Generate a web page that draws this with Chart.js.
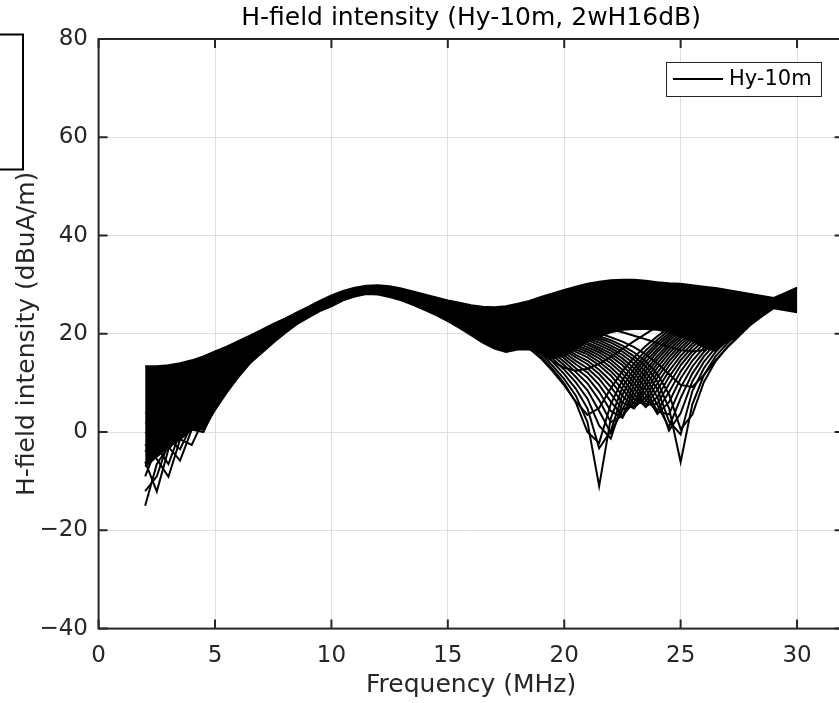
<!DOCTYPE html>
<html><head><meta charset="utf-8">
<script src="https://cdn.jsdelivr.net/npm/chart.js@4.4.1/dist/chart.umd.min.js"></script>
<style>html,body{margin:0;padding:0;overflow:hidden;background:#fff;width:839px;height:703px}canvas{display:block}</style>
</head><body>
<canvas id="c" width="860" height="703"></canvas>
<script>
const titleText = 'H-field intensity (Hy-10m, 2wH16dB)';
const xTitle = 'Frequency (MHz)';
const yTitle = 'H-field intensity (dBuA/m)';
const legendLabel = 'Hy-10m';
const xTicks = [0, 5, 10, 15, 20, 25, 30];
const yTicks = [-40, -20, 0, 20, 40, 60, 80];

// frequency grid of the bundle (MHz)
const freqMHz = [2,2.5,3,3.5,4,4.5,5,5.5,6,6.5,7,7.5,8,8.5,9,9.5,10,10.5,11,11.5,12,12.5,13,13.5,14,14.5,15,15.5,16,16.5,17,17.5,18,18.5,19,19.5,20,20.5,21,21.5,22,22.5,23,23.5,24,24.5,25,25.5,26,26.5,27,27.5,28,28.5,29,29.5,30];
// upper edge of the dense bundle of curves (dBuA/m)
const bandTop = [13.4,13.4,13.6,14.0,14.6,15.4,16.4,17.4,18.5,19.6,20.8,22.0,23.1,24.3,25.5,26.7,27.8,28.7,29.4,29.8,29.9,29.7,29.2,28.6,28.0,27.4,26.8,26.3,25.8,25.5,25.4,25.6,26.1,26.7,27.5,28.2,28.9,29.6,30.2,30.6,30.9,31.0,31.0,30.8,30.5,30.3,30.2,29.9,29.6,29.3,28.9,28.5,28.1,27.7,27.3,28.3,29.4];
// lower edge of the solid part of the bundle (dBuA/m)
const bandBottom = [-7,-5,-3,-1.5,0.5,0.5,4.5,8,11.2,14,16.1,18.2,20.1,21.9,23.3,24.6,25.6,26.8,27.6,28.1,28.0,27.5,26.8,25.9,24.9,23.8,22.6,21.2,19.7,18.2,17.0,16.3,16.8,16.8,16.0,15.0,15.5,17.0,18.5,19.5,20.3,20.8,21.0,21.0,20.8,20.3,19.5,18.5,17.3,16.5,18.5,19.5,21.8,23.6,25.2,24.8,24.4];

// individual curves in the 18.5-27.5 MHz notch region (dBuA/m)
const meshFreq = [18.5,19,19.5,20,20.5,21,21.5,22,22.5,23,23.5,24,24.5,25,25.5,26,26.5,27,27.5];
const mesh0  = [17.6,16.1,14.4,13.1,12.5,12.9,13.9,15.3,16.9,18.5,20.0,21.5,22.9,24.2,25.3,26,26,26,26];
const mesh1  = [17.0,15.0,12.4,9.5,6.2,3.5,4.9,8.9,12.4,15.2,17.5,19.5,21.2,22.8,24.2,25.3,26,26,26];
const mesh2  = [17.4,15.4,12.8,9.9,6.0,0.0,-2.2,5.7,10.6,14.0,16.6,18.8,20.7,22.3,23.7,24.9,26,26,26];
const mesh3  = [17.9,16.0,13.5,10.8,7.4,2.0,-11.0,2.8,9.1,12.9,15.8,18.2,20.1,21.9,23.3,24.6,25.8,26,26];
const mesh4  = [18.4,16.6,14.3,11.8,8.8,4.8,-3.3,0.2,7.6,11.9,15.1,17.6,19.6,21.5,23.0,24.2,25.5,26,26];
const mesh5  = [18.8,17.1,15.0,12.7,10.1,6.8,1.3,-1.3,6.0,10.9,14.3,16.9,19.1,21.0,22.6,23.9,25.2,26,26];
const mesh6  = [19.3,17.7,15.6,13.6,11.2,8.5,4.3,-0.2,4.5,9.7,13.4,16.3,18.6,20.5,22.2,23.5,24.8,26,26];
const mesh7  = [19.7,18.2,16.2,14.3,12.2,9.9,6.5,2.0,3.3,8.5,12.5,15.5,18.0,20.0,21.7,23.2,24.5,25.7,26];
const mesh8  = [20.1,18.7,16.8,15.0,13.0,11.1,8.2,4.3,2.9,7.3,11.6,14.8,17.4,19.5,21.3,22.8,24.2,25.4,26];
const mesh9  = [20.5,19.1,17.3,15.6,13.8,12.1,9.6,6.2,3.4,6.1,10.5,14.0,16.7,19.0,20.8,22.4,23.8,25.0,26];
const mesh10 = [20.9,19.5,17.8,16.2,14.5,13.0,10.8,7.8,4.6,5.3,9.4,13.1,16.0,18.4,20.3,21.9,23.4,24.7,25.9];
const mesh11 = [21.2,19.9,18.3,16.7,15.2,13.8,11.8,9.2,6.0,4.8,8.3,12.1,15.2,17.8,19.8,21.5,23.0,24.3,25.6];
const mesh12 = [21.6,20.3,18.7,17.2,15.7,14.5,12.7,10.4,7.4,5.0,7.1,11.1,14.4,17.1,19.3,21.0,22.6,24.0,25.3];
const mesh13 = [21.9,20.7,19.1,17.7,16.3,15.2,13.6,11.5,8.7,5.8,6.2,9.9,13.5,16.4,18.7,20.5,22.2,23.6,25.0];
const mesh14 = [22.2,21.0,19.5,18.1,16.8,15.8,14.3,12.4,9.9,6.7,5.4,8.6,12.4,15.5,18.0,19.9,21.7,23.2,24.6];
const mesh15 = [22.5,21.3,19.8,18.5,17.3,16.3,15.0,13.2,10.9,7.8,5.1,7.1,11.2,14.6,17.3,19.4,21.2,22.8,24.2];
const mesh16 = [22.8,21.6,20.2,18.9,17.7,16.8,15.6,14.0,11.9,9.0,5.6,5.7,9.8,13.6,16.5,18.7,20.7,22.3,23.8];
const mesh17 = [23.1,21.9,20.5,19.3,18.2,17.3,16.2,14.7,12.7,10.1,6.5,4.4,8.1,12.3,15.6,18.0,20.1,21.8,23.4];
const mesh18 = [23.3,22.2,20.8,19.7,18.6,17.8,16.7,15.4,13.6,11.1,7.6,3.7,6.1,10.9,14.5,17.2,19.5,21.3,22.9];
const mesh19 = [23.6,22.5,21.2,20.0,18.9,18.2,17.2,16.0,14.3,12.1,8.8,4.2,3.6,9.1,13.3,16.3,18.8,20.7,22.5];
const mesh20 = [23.8,22.8,21.5,20.3,19.3,18.7,17.7,16.6,15.0,13.0,10.1,5.5,1.0,6.9,11.9,15.4,18.0,20.1,22.0];
const mesh21 = [24.1,23.1,21.8,20.7,19.7,19.1,18.2,17.1,15.7,13.9,11.2,7.1,0.3,3.8,10.3,14.3,17.2,19.5,21.4];
const mesh22 = [24.3,23.3,22.0,21.0,20.0,19.5,18.7,17.6,16.4,14.7,12.3,8.8,2.2,-0.5,8.3,13.0,16.3,18.8,20.9];
const mesh23 = [24.6,23.6,22.3,21.3,20.4,19.9,19.1,18.2,17.0,15.4,13.4,10.3,4.9,-6.1,5.6,11.6,15.4,18.0,20.3];
const mesh24 = [24.8,23.8,22.6,21.6,20.7,20.2,19.5,18.7,17.6,16.2,14.4,11.8,7.7,0.6,3.5,10.2,14.4,17.3,19.7];
const mesh25 = [25.0,24.1,22.9,22.0,21.1,20.7,20.1,19.3,18.4,17.3,15.8,14.0,11.8,9.6,9.2,11.6,14.6,17.2,19.5];
const mesh26 = [25.7,24.8,23.7,22.8,22.1,21.8,21.4,20.9,20.3,19.6,18.9,18.1,17.3,16.7,16.4,16.7,17.6,18.9,20.4];

// individual curves in the low-frequency region (dBuA/m)
const spikeFreq = [2,2.5,3,3.5,4,4.5,5];
const spike0 = [-15,-6.5,-3,0,2.5,4.5,6.5];
const spike1 = [-6,-12.1,-3.5,-0.5,2,4,6];
const spike2 = [-2.5,-5.5,-9.1,-1.5,1.5,3.5,5.5];
const spike3 = [0,-1.5,-3,-5.8,0.5,3,5.5];
const spike4 = [2,1,0,-1.5,-2.6,2.5,5.5];
const spike5 = [4,3,2,1,0.5,0,5];
const spike6 = [-12,-9,-2,1,3.5,5.5,7];
const spike7 = [-9,-3,-6.5,0,3,5,7];
const spike8 = [-4,-1,-1.5,-3.5,1.5,4,6];

const meshCurves = [mesh0,mesh1,mesh2,mesh3,mesh4,mesh5,mesh6,mesh7,mesh8,mesh9,mesh10,mesh11,mesh12,mesh13,mesh14,mesh15,mesh16,mesh17,mesh18,mesh19,mesh20,mesh21,mesh22,mesh23,mesh24,mesh25,mesh26];
const spikeCurves = [spike0,spike1,spike2,spike3,spike4,spike5,spike6,spike7,spike8];

const FONT = 'DejaVu Sans';
const INK = '#262626';
const pts = (xs, ys) => xs.map((x, i) => ({x: x, y: ys[i]}));
const lineDs = (label, data, extra) => Object.assign({
  label: label, data: data, borderColor: '#000', backgroundColor: '#000',
  borderWidth: 2, pointRadius: 0, pointHoverRadius: 0, tension: 0, fill: false
}, extra || {});

const datasets = [
  lineDs(legendLabel, pts(freqMHz, bandTop)),
  lineDs('band lower edge', pts(freqMHz, bandBottom), {fill: '-1'})
];
meshCurves.forEach((c, i) => datasets.push(lineDs('mesh ' + i, pts(meshFreq, c))));
spikeCurves.forEach((c, i) => datasets.push(lineDs('spike ' + i, pts(spikeFreq, c))));

const frame = {
  id: 'frame',
  afterDraw(chart) {
    const {ctx, chartArea: a, scales: {x, y}} = chart;
    ctx.save();
    ctx.strokeStyle = INK;
    ctx.lineWidth = 2;
    ctx.strokeRect(a.left, a.top, a.right - a.left, a.bottom - a.top);
    ctx.beginPath();
    xTicks.forEach(v => {
      const px = x.getPixelForValue(v);
      ctx.moveTo(px, a.bottom); ctx.lineTo(px, a.bottom - 9);
      ctx.moveTo(px, a.top); ctx.lineTo(px, a.top + 9);
    });
    yTicks.forEach(v => {
      const py = y.getPixelForValue(v);
      ctx.moveTo(a.left, py); ctx.lineTo(a.left + 9, py);
      ctx.moveTo(a.right, py); ctx.lineTo(a.right - 9, py);
    });
    ctx.stroke();
    // legend
    ctx.fillStyle = '#fff';
    ctx.fillRect(666, 62, 155, 34);
    ctx.lineWidth = 1;
    ctx.strokeStyle = INK;
    ctx.strokeRect(666.5, 62.5, 155, 34);
    ctx.beginPath();
    ctx.strokeStyle = '#000';
    ctx.lineWidth = 2;
    ctx.moveTo(673, 79); ctx.lineTo(723, 79);
    ctx.stroke();
    ctx.fillStyle = '#000';
    ctx.font = '21px "' + FONT + '"';
    ctx.textBaseline = 'middle';
    ctx.textAlign = 'left';
    ctx.fillText(chart.data.datasets[0].label, 729, 80);
    // partial box at the top-left edge
    ctx.fillStyle = '#fff';
    ctx.fillRect(-5, 34.5, 28, 135);
    ctx.strokeStyle = '#000';
    ctx.lineWidth = 2;
    ctx.strokeRect(-5, 34.5, 28, 135);
    ctx.restore();
  }
};

new Chart(document.getElementById('c'), {
  type: 'line',
  data: {datasets: datasets},
  plugins: [frame],
  options: {
    responsive: false, animation: false, devicePixelRatio: 1,
    layout: {padding: {left: 0, right: 16.4, top: 0, bottom: 0}},
    plugins: {
      legend: {display: false},
      tooltip: {enabled: false},
      title: {display: true, text: titleText, fullSize: false, color: '#000',
        font: {family: FONT, size: 25, weight: 'normal'}, padding: {top: 3, bottom: 6}}
    },
    scales: {
      x: {
        type: 'linear', min: 0, max: 32,
        afterBuildTicks: s => { s.ticks = xTicks.map(v => ({value: v})); },
        ticks: {autoSkip: false, maxRotation: 0, color: INK, padding: 14,
          font: {family: FONT, size: 23}},
        grid: {color: '#dedede', lineWidth: 1, drawTicks: false},
        border: {display: false},
        title: {display: true, text: xTitle, color: INK, font: {family: FONT, size: 25},
          padding: {top: 0, bottom: 2.5}},
        afterFit: s => { s.height = 74.4; }
      },
      y: {
        type: 'linear', min: -40, max: 80,
        afterBuildTicks: s => { s.ticks = yTicks.map(v => ({value: v})); },
        ticks: {autoSkip: false, color: INK, padding: 10.6,
          font: {family: FONT, size: 23},
          callback: v => String(v).replace('-', '\u2212')},
        grid: {color: '#dedede', lineWidth: 1, drawTicks: false},
        border: {display: false},
        title: {display: true, text: yTitle, color: INK, font: {family: FONT, size: 25},
          padding: {top: 12, bottom: 0}},
        afterFit: s => { s.width = 98.6; }
      }
    }
  }
});
</script>
</body></html>
